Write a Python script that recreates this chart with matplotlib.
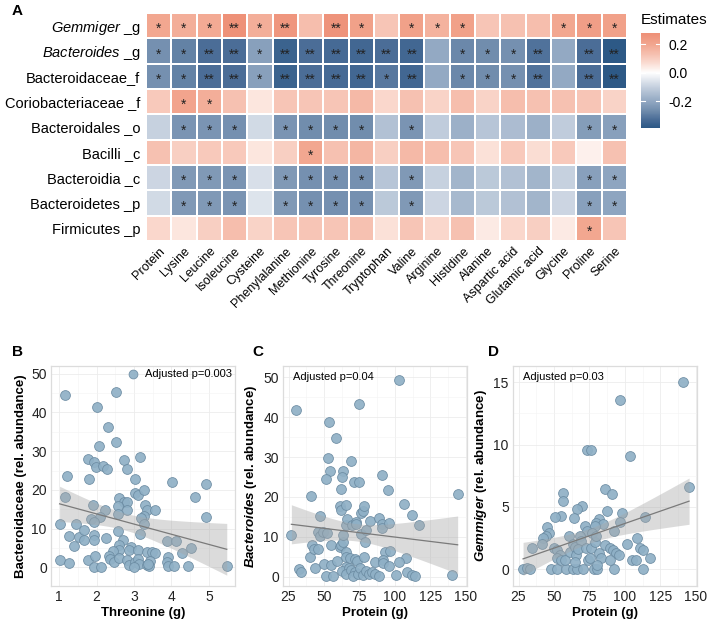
import numpy as np
import matplotlib
matplotlib.use('Agg')
import matplotlib.pyplot as plt
from matplotlib.colors import LinearSegmentedColormap, Normalize

plt.rcParams['font.family'] = ['Liberation Sans', 'DejaVu Sans']
plt.rcParams['mathtext.fontset'] = 'custom'
plt.rcParams['mathtext.rm'] = 'Liberation Sans'
plt.rcParams['mathtext.it'] = 'Liberation Sans:italic'
plt.rcParams['mathtext.bf'] = 'Liberation Sans:bold'
try:
    plt.rcParams['mathtext.bfit'] = 'Liberation Sans:italic:bold'
except KeyError:
    pass

# ---------------- data: heatmap ----------------
amino_acids = ['Protein', 'Lysine', 'Leucine', 'Isoleucine', 'Cysteine', 'Phenylalanine',
               'Methionine', 'Tyrosine', 'Threonine', 'Tryptophan', 'Valine', 'Arginine',
               'Histidine', 'Alanine', 'Aspartic acid', 'Glutamic acid', 'Glycine',
               'Proline', 'Serine']
taxa = [r'$\mathit{Gemmiger}$ _g', r'$\mathit{Bacteroides}$ _g', 'Bacteroidaceae_f',
        'Coriobacteriaceae _f', 'Bacteroidales _o', 'Bacilli _c', 'Bacteroidia _c',
        'Bacteroidetes _p', 'Firmicutes _p']

est_gemmiger = [0.20, 0.18, 0.19, 0.28, 0.18, 0.26, 0.14, 0.27, 0.22, 0.12, 0.22, 0.17, 0.22, 0.12, 0.13, 0.14, 0.20, 0.23, 0.22]
est_bacteroides = [-0.26, -0.29, -0.33, -0.33, -0.22, -0.36, -0.33, -0.34, -0.35, -0.33, -0.35, -0.20, -0.28, -0.27, -0.26, -0.32, -0.20, -0.33, -0.39]
est_bacteroidaceae = [-0.26, -0.29, -0.33, -0.33, -0.22, -0.36, -0.33, -0.34, -0.35, -0.31, -0.35, -0.20, -0.28, -0.27, -0.26, -0.32, -0.20, -0.33, -0.39]
est_corio = [0.11, 0.21, 0.18, 0.13, 0.05, 0.12, 0.12, 0.12, 0.15, 0.08, 0.13, 0.09, 0.14, 0.09, 0.14, 0.13, 0.13, 0.12, 0.09]
est_bacteroidales = [-0.10, -0.25, -0.25, -0.26, -0.08, -0.25, -0.27, -0.27, -0.27, -0.14, -0.25, -0.11, -0.18, -0.13, -0.15, -0.18, -0.11, -0.23, -0.22]
est_bacilli = [0.13, 0.10, 0.11, 0.11, 0.05, 0.10, 0.20, 0.13, 0.16, 0.10, 0.15, 0.14, 0.12, 0.06, 0.11, 0.07, 0.11, 0.03, 0.13]
est_bacteroidia = [-0.09, -0.24, -0.24, -0.25, -0.07, -0.24, -0.26, -0.26, -0.26, -0.13, -0.24, -0.10, -0.17, -0.12, -0.14, -0.17, -0.10, -0.22, -0.21]
est_bacteroidetes = [-0.08, -0.24, -0.24, -0.25, -0.06, -0.24, -0.26, -0.26, -0.26, -0.12, -0.24, -0.09, -0.16, -0.12, -0.14, -0.17, -0.09, -0.22, -0.21]
est_firmicutes = [0.08, 0.05, 0.10, 0.14, 0.09, 0.12, 0.12, 0.12, 0.13, 0.06, 0.12, 0.08, 0.13, 0.04, 0.08, 0.10, 0.04, 0.20, 0.12]

sig_gemmiger = ['*', '*', '*', '**', '*', '**', '', '**', '*', '', '*', '*', '*', '', '', '', '*', '*', '*']
sig_bacteroides = ['*', '*', '**', '**', '*', '**', '**', '**', '**', '**', '**', '', '*', '*', '*', '**', '', '**', '**']
sig_bacteroidaceae = ['*', '*', '**', '**', '*', '**', '**', '**', '**', '*', '**', '', '*', '*', '*', '**', '', '**', '**']
sig_corio = ['', '*', '*', '', '', '', '', '', '', '', '', '', '', '', '', '', '', '', '']
sig_bacteroidales = ['', '*', '*', '*', '', '*', '*', '*', '*', '', '*', '', '', '', '', '', '', '*', '*']
sig_bacilli = ['', '', '', '', '', '', '*', '', '', '', '', '', '', '', '', '', '', '', '']
sig_bacteroidia = ['', '*', '*', '*', '', '*', '*', '*', '*', '', '*', '', '', '', '', '', '', '*', '*']
sig_bacteroidetes = ['', '*', '*', '*', '', '*', '*', '*', '*', '', '*', '', '', '', '', '', '', '*', '*']
sig_firmicutes = ['', '', '', '', '', '', '', '', '', '', '', '', '', '', '', '', '', '*', '']

# ---------------- data: scatter B ----------------
threonine_b = [1.15, 2.51, 2.01, 2.31, 2.51, 2.06, 1.20, 1.77, 1.92, 1.97,
               2.16, 2.27, 2.72, 2.81, 3.17, 1.80, 3.02, 1.15, 3.02, 3.11,
               3.27, 2.60, 2.72, 2.81, 2.58, 1.91, 3.29, 3.36, 3.56, 2.81,
               2.22, 2.56, 3.27, 3.18, 2.10, 1.85, 1.92, 3.27, 1.01, 1.45,
               1.27, 1.52, 1.67, 1.66, 1.92, 1.92, 2.26, 2.56, 3.17, 1.39,
               2.70, 2.60, 2.60, 2.91, 2.87, 3.10, 2.43, 2.32, 2.35, 2.46,
               2.60, 2.82, 2.87, 3.03, 3.10, 3.12, 3.00, 3.36, 3.47, 3.55,
               3.44, 3.36, 3.41, 3.38, 1.01, 1.26, 1.76, 1.96, 1.92, 2.11,
               4.02, 4.93, 4.62, 4.93, 3.87, 4.12, 4.52, 4.27, 3.92, 3.87, 3.92, 4.07, 4.43, 5.48]
bacteroidaceae_b = [44.4, 45.4, 41.3, 36.2, 32.4, 31.3, 23.7, 27.9, 27.1, 25.9,
                    26.2, 25.4, 27.7, 25.3, 28.4, 22.9, 22.8, 18.2, 19.2, 18.7,
                    19.9, 17.9, 16.9, 16.9, 15.9, 16.0, 16.0, 14.7, 14.7, 14.7,
                    14.8, 13.9, 13.2, 12.7, 12.9, 12.4, 11.7, 11.2, 11.3, 11.3,
                    8.0, 7.9, 9.6, 7.1, 8.4, 7.1, 7.5, 9.5, 8.5, 5.4,
                    7.2, 5.9, 4.5, 5.3, 4.4, 4.4, 4.2, 2.9, 2.1, 1.3,
                    2.5, 1.8, 0.6, 1.4, 2.2, 0.9, 0.1, 4.0, 4.0, 3.7,
                    1.6, 0.6, 0.3, 0.9, 1.9, 1.1, 2.0, 2.9, 0.1, 0.1,
                    22.1, 21.6, 18.2, 12.9, 6.8, 6.9, 5.0, 3.7, 2.6, 1.3, 0.3, 0.3, 0.3, 0.3]

# ---------------- data: scatter C ----------------
protein_c = [103.1, 30.5, 74.8, 53.6, 58.3, 52.9, 54.3, 51.7, 69.2, 63.5,
             62.6, 61.8, 71.0, 74.8, 90.6, 94.9, 40.9, 27.0, 32.2, 33.6,
             40.1, 41.9, 42.7, 45.9, 43.9, 47.5, 45.9, 47.5, 49.3, 52.2,
             49.9, 51.7, 55.3, 56.4, 55.0, 59.5, 61.1, 62.3, 63.5, 63.5,
             65.2, 61.1, 61.8, 65.4, 66.3, 69.6, 72.4, 72.4, 75.8, 77.6,
             78.4, 76.4, 79.9, 82.4, 78.8, 65.8, 65.8, 68.2, 71.8, 73.6,
             78.1, 65.2, 63.0, 67.5, 65.8, 69.4, 71.8, 70.6, 74.2, 75.2,
             77.6, 79.9, 81.6,
             88.9, 90.6, 91.1, 96.0, 106.7, 111.8, 117.0, 144.3, 92.9, 96.9,
             107.7, 85.9, 91.8, 91.8, 96.0, 102.9, 83.6, 85.9, 88.9, 100.7,
             108.9, 111.8, 114.1, 140.0]
bacteroides_c = [49.2, 41.9, 43.4, 38.7, 34.8, 29.7, 26.5, 24.4, 29.0, 26.4,
                 25.0, 22.1, 23.8, 23.8, 25.4, 21.8, 20.2, 10.5, 1.9, 1.1,
                 5.0, 7.9, 7.0, 7.0, 2.2, 15.3, 11.2, 10.2, 11.2, 11.0,
                 3.1, 0.2, 7.9, 0.2, 2.9, 3.9, 7.4, 7.9, 8.7, 10.5,
                 13.0, 17.8, 16.8, 17.9, 14.6, 13.0, 13.8, 13.2, 16.1, 16.5,
                 17.8, 10.7, 11.7, 14.0, 8.7, 6.2, 5.0, 4.7, 4.5, 3.9,
                 5.0, 2.5, 1.4, 2.1, 0.6, 1.8, 1.2, 0.2, 0.8, 2.1,
                 0.4, 1.5, 0.8,
                 14.7, 13.2, 12.2, 13.5, 18.2, 15.5, 12.9, 20.7, 6.2, 6.4,
                 4.7, 3.8, 4.1, 3.5, 2.8, 3.6, 1.2, 0.8, 0.3, 0.5,
                 1.2, 0.5, 0.3, 0.5]

# ---------------- data: scatter D ----------------
protein_d = [141.0, 96.8, 103.4, 73.1, 76.4, 145.3, 86.3, 91.1, 56.3, 56.3,
             54.7, 50.5, 69.5, 66.2, 64.1, 87.2, 97.8, 82.0, 79.7, 84.3,
             79.2, 71.9, 73.3, 96.8, 92.4, 114.5, 45.1, 46.5, 44.1, 42.3,
             41.5, 34.5, 28.2, 31.2, 33.3, 48.1, 52.4, 58.8, 63.4, 66.2,
             70.5, 78.0, 80.4, 92.1, 112.8, 50.0, 52.4, 54.0, 52.2, 54.7,
             57.5, 60.6, 61.6, 63.4, 64.6, 65.7, 64.6, 68.2, 69.3, 67.0,
             72.3, 74.0, 77.1, 76.4, 78.7, 79.9, 75.6, 82.0, 83.2, 80.4,
             86.3, 89.8, 91.6, 93.9, 89.3, 95.8, 101.5, 105.3, 107.8, 108.9,
             110.6, 112.8, 118.0]
gemmiger_d = [15.0, 13.6, 9.1, 9.6, 9.6, 6.6, 6.4, 6.0, 6.1, 5.5,
              4.3, 4.2, 5.1, 4.8, 4.1, 4.7, 4.5, 4.0, 3.7, 3.6,
              3.5, 3.5, 3.1, 3.8, 3.1, 4.2, 3.4, 2.9, 2.7, 2.5,
              2.0, 1.7, 0.05, 0.1, 0.05, 0.0, 0.0, 0.0, 0.0, 0.0,
              0.0, 0.0, 0.0, 0.0, 0.0, 1.7, 1.5, 1.1, 0.9, 0.7,
              0.7, 2.7, 1.4, 2.0, 1.8, 1.1, 0.6, 2.7, 2.3, 1.6,
              1.7, 0.7, 2.9, 1.7, 2.2, 2.7, 0.9, 1.3, 0.9, 0.3,
              1.9, 1.7, 1.5, 1.3, 0.7, 1.1, 2.0, 0.7, 0.7, 2.5,
              1.7, 1.5, 0.9]

# ---------------- figure ----------------
W, H = 709, 619
fig = plt.figure(figsize=(W / 100, H / 100), dpi=100)

def fa(l, t, r, b):
    return [l / W, 1 - b / H, (r - l) / W, (b - t) / H]

est = np.array([est_gemmiger, est_bacteroides, est_bacteroidaceae, est_corio,
                est_bacteroidales, est_bacilli, est_bacteroidia, est_bacteroidetes,
                est_firmicutes])
sig = [sig_gemmiger, sig_bacteroides, sig_bacteroidaceae, sig_corio, sig_bacteroidales,
       sig_bacilli, sig_bacteroidia, sig_bacteroidetes, sig_firmicutes]

# diverging palette (perceptual-like ramp from blue through white to salmon)
lim = 0.39
nodes = [(-0.39, '#2d5986'), (-0.33, '#4c6e98'), (-0.27, '#718dad'), (-0.2, '#93a9c3'),
         (-0.1, '#c6d1df'), (0.0, '#ffffff'), (0.06, '#fbe1d8'), (0.12, '#f7c5b6'),
         (0.2, '#f2a790'), (0.3, '#ed8b72'), (0.39, '#e9785d')]
cmap = LinearSegmentedColormap.from_list(
    'est', [((v + lim) / (2 * lim), c) for v, c in nodes])
norm = Normalize(-lim, lim)

axh = fig.add_axes(fa(146, 13, 627, 241))
nr, nc = est.shape
axh.pcolormesh(np.arange(nc + 1), np.arange(nr + 1), est, cmap=cmap, norm=norm,
               edgecolors='white', linewidth=1.3)
axh.set_xlim(0, nc)
axh.set_ylim(nr, 0)
for s in axh.spines.values():
    s.set_visible(False)
for i in range(nr):
    for j in range(nc):
        if sig[i][j]:
            axh.text(j + 0.5, i + 0.64, sig[i][j], ha='center', va='center',
                     fontsize=10, color='#222222')
axh.set_xticks(np.arange(nc) + 0.5)
axh.set_xticklabels(amino_acids, rotation=45, ha='right', va='top',
                    rotation_mode='anchor', fontsize=9)
axh.set_yticks(np.arange(nr) + 0.5)
axh.set_yticklabels(taxa, fontsize=10.5)
axh.tick_params(length=0, pad=4)
axh.tick_params(axis='x', pad=3)

# colorbar
axc = fig.add_axes(fa(641, 33, 660, 128))
vmin_d, vmax_d = est.min(), est.max()
grad = np.linspace(vmax_d, vmin_d, 200)[:, None]
axc.imshow(grad, cmap=cmap, norm=norm, aspect='auto', extent=[0, 1, vmin_d, vmax_d])
axc.set_xlim(0, 1)
axc.set_ylim(vmin_d, vmax_d)
for s in axc.spines.values():
    s.set_visible(False)
axc.set_xticks([])
cb_ticks = [-0.2, 0.0, 0.2]
axc.set_yticks(cb_ticks)
axc.yaxis.tick_right()
axc.set_yticklabels(['-0.2', '0.0', '0.2'], fontsize=10)
axc.tick_params(axis='y', length=0, pad=6)
for tv in cb_ticks:
    axc.plot([0, 0.2], [tv, tv], color='white', lw=0.8)
    axc.plot([0.8, 1], [tv, tv], color='white', lw=0.8)
fig.text(641 / W, 1 - 20 / H, 'Estimates', fontsize=11, va='center', ha='left')

# panel letters
for lab, x, y in [('A', 12, 11), ('B', 12, 352), ('C', 252, 352), ('D', 488, 352)]:
    fig.text(x / W, 1 - y / H, lab, fontsize=11, fontweight='bold', ha='left', va='center')

pt_kw = dict(s=50, facecolor='#8fb0c6', edgecolor='#6b8ba2', linewidth=0.6, alpha=0.92, zorder=3)


def lm_band(ax, x, y):
    x = np.asarray(x, float)
    y = np.asarray(y, float)
    n = len(x)
    b, a = np.polyfit(x, y, 1)
    xs = np.linspace(x.min(), x.max(), 100)
    yh = a + b * xs
    resid = y - (a + b * x)
    s = np.sqrt(np.sum(resid ** 2) / (n - 2))
    sxx = np.sum((x - x.mean()) ** 2)
    se = s * np.sqrt(1.0 / n + (xs - x.mean()) ** 2 / sxx)
    t = 1.986
    ax.fill_between(xs, yh - t * se, yh + t * se, color='#a6a6a6', alpha=0.4, lw=0, zorder=4)
    ax.plot(xs, yh, color='#7a7a7a', lw=0.9, zorder=5)


def style(ax, xt, yt, xlim, ylim):
    ax.set_xlim(*xlim)
    ax.set_ylim(*ylim)
    ax.set_xticks(xt)
    ax.set_yticks(yt)
    mx = [(xt[i] + xt[i + 1]) / 2 for i in range(len(xt) - 1)]
    my = [(yt[i] + yt[i + 1]) / 2 for i in range(len(yt) - 1)]
    ax.set_xticks(mx, minor=True)
    ax.set_yticks(my, minor=True)
    ax.grid(which='major', color='#ececec', lw=0.6, zorder=0)
    ax.grid(which='minor', color='#f4f4f4', lw=0.4, zorder=0)
    ax.set_axisbelow(True)
    for s in ax.spines.values():
        s.set_color('#dcdcdc')
        s.set_linewidth(0.9)
    ax.tick_params(which='both', length=0, labelsize=10, pad=3, labelcolor='#222222')


# B
axb = fig.add_axes(fa(51, 366, 235, 586))
axb.scatter(threonine_b, bacteroidaceae_b, label='Adjusted p=0.003', **pt_kw)
lm_band(axb, threonine_b, bacteroidaceae_b)
style(axb, [1, 2, 3, 4, 5], [0, 10, 20, 30, 40, 50], (0.78, 5.70), (-4.8, 52))
axb.set_xlabel('Threonine (g)', fontsize=9.5, fontweight='bold', labelpad=2)
axb.set_ylabel('Bacteroidaceae (rel. abundance)', fontsize=9.5, fontweight='bold', labelpad=3)
axb.legend(loc='upper right', frameon=False, fontsize=8, handletextpad=0.05,
           borderaxespad=0.1, borderpad=0.2, markerscale=0.9)

# C
axcc = fig.add_axes(fa(283, 366, 467, 586))
axcc.scatter(protein_c, bacteroides_c, **pt_kw)
lm_band(axcc, protein_c, bacteroides_c)
style(axcc, [25, 50, 75, 100, 125, 150], [0, 10, 20, 30, 40, 50], (21.1, 150.9), (-2.3, 52.8))
axcc.set_xlabel('Protein (g)', fontsize=9.5, fontweight='bold', labelpad=2)
axcc.set_ylabel(r'$\mathbfit{Bacteroides}$ (rel. abundance)', fontsize=9.5, fontweight='bold', labelpad=3)
axcc.text(0.055, 0.975, 'Adjusted p=0.04', transform=axcc.transAxes, va='top', ha='left', fontsize=8)

# D
axd = fig.add_axes(fa(513, 366, 697, 586))
axd.scatter(protein_d, gemmiger_d, **pt_kw)
lm_band(axd, protein_d, gemmiger_d)
style(axd, [25, 50, 75, 100, 125, 150], [0, 5, 10, 15], (21.1, 150.9), (-1.35, 16.3))
axd.set_xlabel('Protein (g)', fontsize=9.5, fontweight='bold', labelpad=2)
axd.set_ylabel(r'$\mathbfit{Gemmiger}$ (rel. abundance)', fontsize=9.5, fontweight='bold', labelpad=3)
axd.text(0.055, 0.975, 'Adjusted p=0.03', transform=axd.transAxes, va='top', ha='left', fontsize=8)

fig.savefig('out.png', dpi=100)
